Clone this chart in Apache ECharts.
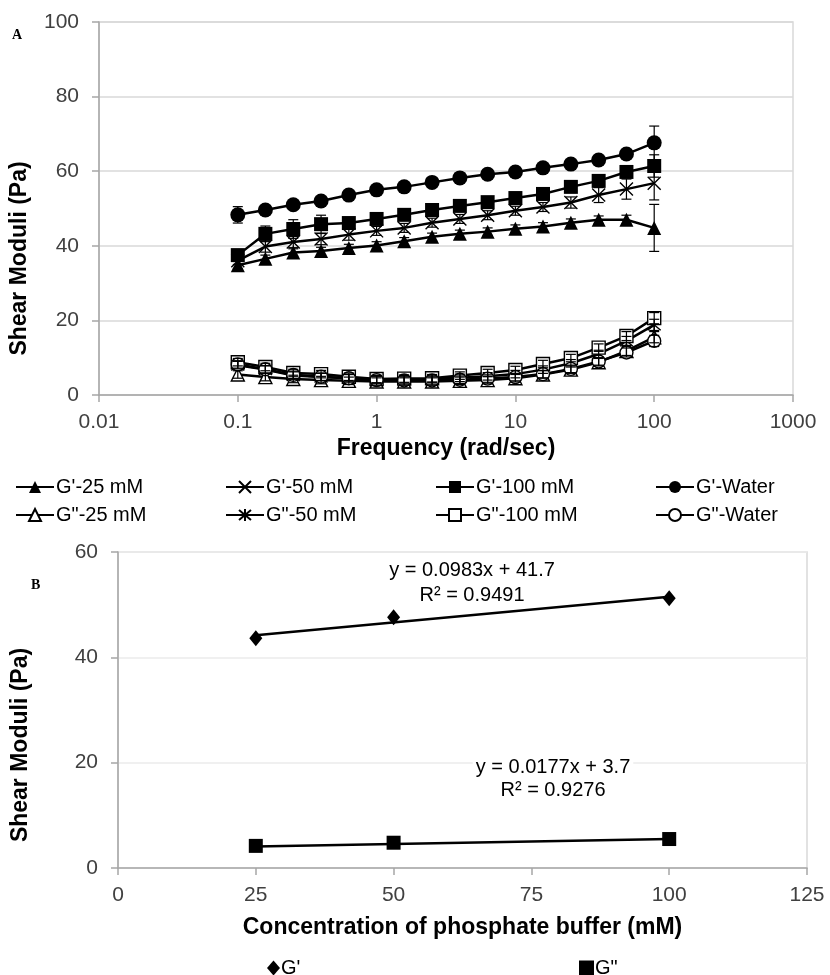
<!DOCTYPE html>
<html lang="en">
<head>
    <meta charset="UTF-8">
    <title>Shear moduli</title>
    <style>
        * { padding: 0; margin: 0; }
        body { background: #fff; }
        #main { width: 830px; height: 975px; }
    </style>
</head>
<body>
    <div id="main"></div>
    <script src="https://cdn.jsdelivr.net/npm/echarts@6/dist/echarts.min.js"></script>
    <script>
        // panel A: frequency sweep (rad/sec)
        var freq = [0.1, 0.158, 0.251, 0.398, 0.631, 1, 1.58, 2.51, 3.98, 6.31, 10, 15.8, 25.1, 39.8, 63.1, 100];

        var gp25 = [34.8, 36.5, 38.2, 38.6, 39.4, 40.1, 41.2, 42.4, 43.2, 43.8, 44.6, 45.2, 46.2, 47, 47, 44.8];
        var gp50 = [36, 39.8, 41, 41.8, 43, 44, 44.8, 46.2, 47.2, 48.2, 49.4, 50.4, 51.6, 53.6, 55.2, 56.8];
        var gp100 = [37.5, 43.2, 44.5, 45.8, 46.1, 47.2, 48.3, 49.6, 50.7, 51.7, 52.8, 53.9, 55.8, 57.4, 59.8, 61.4];
        var gpW = [48.3, 49.6, 51, 52, 53.6, 55, 55.8, 57, 58.2, 59.2, 59.8, 60.9, 61.9, 63, 64.6, 67.6];

        var gpp25 = [5.5, 4.8, 4.3, 4.0, 3.8, 3.6, 3.6, 3.6, 3.8, 4.0, 4.5, 5.5, 6.8, 8.8, 11.8, 15.5];
        var gpp50 = [8, 6.8, 5.2, 4.8, 4.5, 4.2, 4.2, 4.3, 4.6, 5, 5.6, 6.8, 8.5, 11, 14.5, 18.8];
        var gpp100 = [8.8, 7.5, 5.9, 5.6, 4.9, 4.3, 4.4, 4.5, 5.2, 5.9, 6.7, 8.3, 9.9, 12.7, 15.8, 20.6];
        var gppW = [8.2, 6.9, 5.4, 4.9, 4.5, 4.0, 3.9, 3.9, 4.1, 4.4, 4.8, 5.6, 7.0, 9.0, 11.4, 14.5];

        // error bar half-widths
        var errGp25 = [1, 1, 1, 1, 1, 1, 1, 1, 1, 1, 1, 1, 1, 1, 1.2, 6.3];
        var errGp50 = [1, 1.5, 1.5, 1.5, 1.5, 1.2, 1.2, 1.2, 1.2, 1.2, 1.2, 1.2, 1.5, 2, 2.7, 4.5];
        var errGp100 = [1.5, 2.1, 2.5, 2.4, 1.5, 1.5, 1.5, 1.5, 1.5, 1.5, 1.5, 1.5, 1.5, 1.5, 1.5, 3];
        var errGpW = [2.2, 0.8, 0.8, 0.8, 0.8, 0.8, 0.8, 0.8, 0.8, 0.8, 0.8, 0.8, 0.8, 0.8, 1, 4.5];
        var errGpp = [1, 1, 1, 1, 1, 1, 1, 1, 1, 1, 1, 1, 1, 1, 1.2, 1.5];

        var namesA = ["G'-25 mM", "G'-50 mM", "G'-100 mM", "G'-Water", 'G"-25 mM', 'G"-50 mM', 'G"-100 mM', 'G"-Water'];

        // panel B: moduli vs buffer concentration
        var conc = [25, 50, 100];
        var gpConc = [43.6, 47.6, 51.2];
        var gppConc = [4.2, 4.8, 5.5];
        var gpTrend = [[25, 44.2], [100, 51.5]];
        var gppTrend = [[25, 4.1], [100, 5.5]];

        var sans = "'Liberation Sans', Arial, sans-serif";

        var xMark = 'path://M0,0L10,10M10,0L0,10';
        var star = 'path://M0,0L10,10M10,0L0,10M5,-1L5,11';

        var styleA = [
            { symbol: 'triangle', size: 14, fill: '#000' },
            { symbol: xMark, size: 13, fill: 'none' },
            { symbol: 'rect', size: 14, fill: '#000' },
            { symbol: 'circle', size: 15, fill: '#000' },
            { symbol: 'triangle', size: 13, fill: '#fff' },
            { symbol: star, size: 13, fill: 'none' },
            { symbol: 'rect', size: 13, fill: '#fff' },
            { symbol: 'circle', size: 13, fill: '#fff' }
        ];
        var valsA = [gp25, gp50, gp100, gpW, gpp25, gpp50, gpp100, gppW];
        var errsA = [errGp25, errGp50, errGp100, errGpW, errGpp, errGpp, errGpp, errGpp];

        var myChart = echarts.init(document.getElementById('main'));

        var series = [];
        var errData = [];
        valsA.forEach(function (vals, k) {
            var st = styleA[k];
            series.push({
                name: namesA[k],
                type: 'line',
                xAxisIndex: 0,
                yAxisIndex: 0,
                symbol: st.symbol,
                symbolSize: st.size,
                showAllSymbol: true,
                z: 3,
                lineStyle: { color: '#000', width: 2.5 },
                itemStyle: { color: st.fill, borderColor: '#000', borderWidth: st.fill === '#000' ? 0 : 1.4 },
                data: vals.map(function (v, i) { return [freq[i], v]; })
            });
            vals.forEach(function (v, i) {
                errData.push([freq[i], v - errsA[k][i], v + errsA[k][i]]);
            });
        });

        // error bars
        series.push({
            type: 'custom',
            xAxisIndex: 0,
            yAxisIndex: 0,
            z: 4,
            silent: true,
            renderItem: function (params, api) {
                var lo = api.coord([api.value(0), api.value(1)]);
                var hi = api.coord([api.value(0), api.value(2)]);
                var w = 5;
                var st = { stroke: '#000', lineWidth: 1.2 };
                return {
                    type: 'group',
                    children: [
                        { type: 'line', shape: { x1: lo[0], y1: lo[1], x2: hi[0], y2: hi[1] }, style: st },
                        { type: 'line', shape: { x1: lo[0] - w, y1: lo[1], x2: lo[0] + w, y2: lo[1] }, style: st },
                        { type: 'line', shape: { x1: hi[0] - w, y1: hi[1], x2: hi[0] + w, y2: hi[1] }, style: st }
                    ]
                };
            },
            encode: { x: 0, y: [1, 2] },
            data: errData
        });

        // panel B
        series.push({
            name: "G'",
            type: 'scatter',
            xAxisIndex: 1,
            yAxisIndex: 1,
            symbol: 'diamond',
            symbolSize: [13, 16],
            itemStyle: { color: '#000', opacity: 1 },
            z: 4,
            data: conc.map(function (c, i) { return [c, gpConc[i]]; })
        }, {
            name: 'G"',
            type: 'scatter',
            xAxisIndex: 1,
            yAxisIndex: 1,
            symbol: 'rect',
            symbolSize: 14,
            itemStyle: { color: '#000', opacity: 1 },
            z: 4,
            data: conc.map(function (c, i) { return [c, gppConc[i]]; })
        }, {
            type: 'line',
            xAxisIndex: 1,
            yAxisIndex: 1,
            symbol: 'none',
            silent: true,
            lineStyle: { color: '#000', width: 2.5 },
            data: gpTrend
        }, {
            type: 'line',
            xAxisIndex: 1,
            yAxisIndex: 1,
            symbol: 'none',
            silent: true,
            lineStyle: { color: '#000', width: 2.5 },
            data: gppTrend
        });

        // legends: one per item so the columns line up like the original
        var legendX = [10, 220, 430, 650];
        var legends = namesA.map(function (n, k) {
            return {
                data: [n],
                left: legendX[k % 4],
                top: k < 4 ? 472 : 500,
                itemWidth: 38,
                itemHeight: 15,
                itemGap: 0,
                textStyle: { fontFamily: sans, fontSize: 20, color: '#000', padding: [0, 0, 0, -3] }
            };
        });
        legends.push({
            data: ["G'"],
            left: 262, top: 953,
            itemWidth: 13, itemHeight: 15,
            textStyle: { fontFamily: sans, fontSize: 20, color: '#000', padding: [0, 0, 0, -4] }
        }, {
            data: ['G"'],
            left: 574, top: 953,
            itemWidth: 15, itemHeight: 15,
            textStyle: { fontFamily: sans, fontSize: 20, color: '#000', padding: [0, 0, 0, -4] }
        });

        var tickLabel = { fontFamily: sans, fontSize: 21, color: '#404040' };
        var axisLineGray = { lineStyle: { color: '#a6a6a6', width: 1.5 } };
        var tickGray = { show: true, length: 7, lineStyle: { color: '#a6a6a6', width: 1.5 } };
        var eqFont = '20px ' + sans;

        function eqText(txt, x, y) {
            return {
                type: 'text', x: x, y: y, z: 50,
                style: { text: txt, font: eqFont, fill: '#000', align: 'center', verticalAlign: 'middle',
                         backgroundColor: '#fff', padding: [1, 3] }
            };
        }

        option = {
            backgroundColor: '#fff',
            animation: false,
            grid: [
                { left: 98, top: 22, width: 695, height: 373, show: true, borderColor: '#d9d9d9', borderWidth: 1.5 },
                { left: 118, top: 552, width: 689, height: 316, show: true, borderColor: '#d9d9d9', borderWidth: 1.5 }
            ],
            legend: legends,
            xAxis: [{
                gridIndex: 0,
                type: 'log',
                logBase: 10,
                min: 0.01,
                max: 1000,
                axisLine: axisLineGray,
                axisTick: tickGray,
                axisLabel: Object.assign({ margin: 17, formatter: function (v) { return String(v); } }, tickLabel),
                splitLine: { show: false },
                name: 'Frequency (rad/sec)',
                nameLocation: 'middle',
                nameGap: 42,
                nameTextStyle: { fontFamily: sans, fontSize: 23, fontWeight: 'bold', color: '#000' }
            }, {
                gridIndex: 1,
                type: 'value',
                min: 0,
                max: 125,
                interval: 25,
                axisLine: axisLineGray,
                axisTick: tickGray,
                axisLabel: Object.assign({ margin: 17 }, tickLabel),
                splitLine: { show: false },
                name: 'Concentration of phosphate buffer (mM)',
                nameLocation: 'middle',
                nameGap: 48,
                nameTextStyle: { fontFamily: sans, fontSize: 23, fontWeight: 'bold', color: '#000' }
            }],
            yAxis: [{
                gridIndex: 0,
                type: 'value',
                min: 0,
                max: 100,
                interval: 20,
                axisLine: { show: true, lineStyle: { color: '#a6a6a6', width: 1.5 } },
                axisTick: tickGray,
                axisLabel: Object.assign({ margin: 20 }, tickLabel),
                splitLine: { lineStyle: { color: '#d9d9d9', width: 1.5 } },
                name: 'Shear Moduli (Pa)',
                nameLocation: 'middle',
                nameGap: 68,
                nameTextStyle: { fontFamily: sans, fontSize: 23, fontWeight: 'bold', color: '#000', padding: [0, 100, 0, 0] }
            }, {
                gridIndex: 1,
                type: 'value',
                min: 0,
                max: 60,
                interval: 20,
                axisLine: { show: true, lineStyle: { color: '#a6a6a6', width: 1.5 } },
                axisTick: tickGray,
                axisLabel: Object.assign({ margin: 20 }, tickLabel),
                splitLine: { lineStyle: { color: '#ebebeb', width: 1.5 } },
                name: 'Shear Moduli (Pa)',
                nameLocation: 'middle',
                nameGap: 86,
                nameTextStyle: { fontFamily: sans, fontSize: 23, fontWeight: 'bold', color: '#000', padding: [0, 70, 0, 0] }
            }],
            graphic: [
                { type: 'text', left: 12, top: 28, style: { text: 'A', font: "bold 14px 'Liberation Serif', serif", fill: '#000' } },
                { type: 'text', left: 31, top: 578, style: { text: 'B', font: "bold 14px 'Liberation Serif', serif", fill: '#000' } },
                eqText('y = 0.0983x + 41.7', 472, 570),
                eqText('R² = 0.9491', 472, 595),
                eqText('y = 0.0177x + 3.7', 553, 767),
                eqText('R² = 0.9276', 553, 790)
            ],
            series: series
        };
        myChart.setOption(option);
    </script>
</body>
</html>
